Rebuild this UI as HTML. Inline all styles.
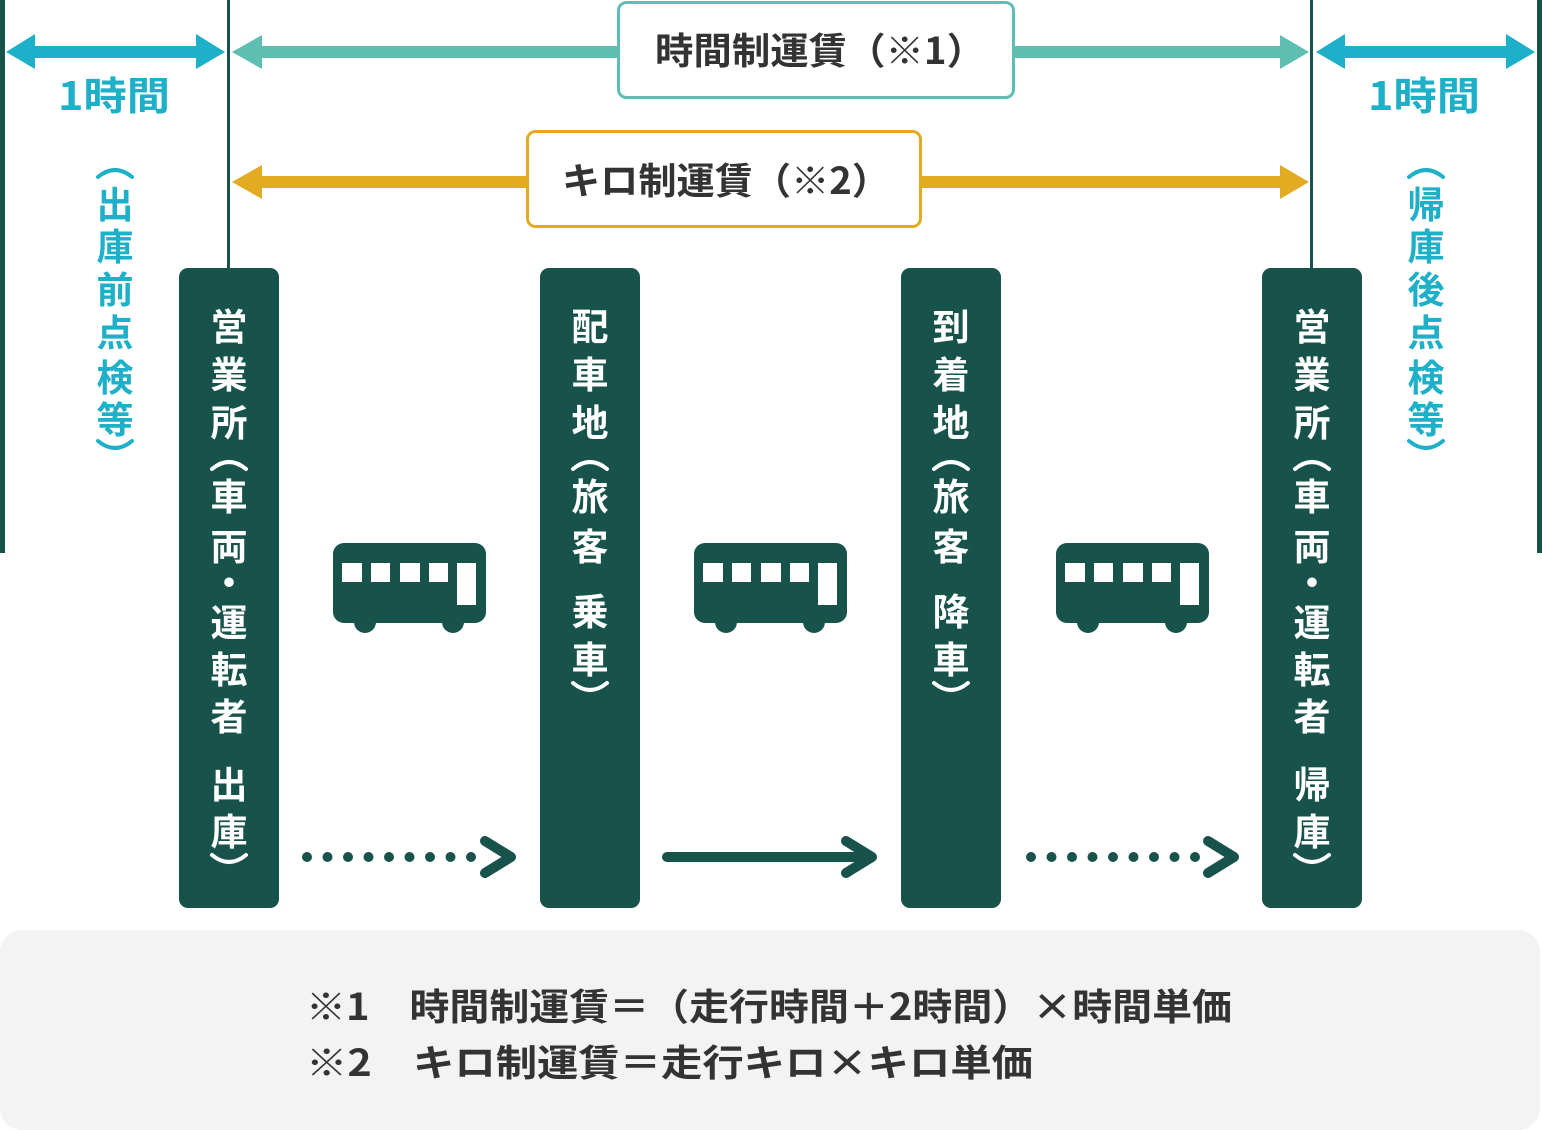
<!DOCTYPE html>
<html><head><meta charset="utf-8"><style>
html,body{margin:0;padding:0;background:#fff;}
svg{display:block;}
text{font-family:"Noto Sans CJK JP","Liberation Sans",sans-serif;font-weight:bold;}
.w{fill:#fff;font-size:37px;text-anchor:middle;}
.c{fill:#1eafc9;font-size:37px;text-anchor:middle;}
.pw{fill:none;stroke:#fff;stroke-width:4;stroke-linecap:round;}
.pc{fill:none;stroke:#1eafc9;stroke-width:4;stroke-linecap:round;}
</style></head><body>
<svg width="1542" height="1130" viewBox="0 0 1542 1130" xmlns="http://www.w3.org/2000/svg">
<rect x="0" y="0" width="5" height="553" fill="#17524b"/>
<rect x="1537" y="0" width="5" height="553" fill="#17524b"/>
<rect x="227" y="0" width="3" height="270" fill="#17524b"/>
<rect x="1310" y="0" width="3" height="270" fill="#17524b"/>
<g fill="#1eafc9">
<rect x="30" y="46" width="170" height="12"/>
<polygon points="6,52 35,34 35,69"/><polygon points="225,52 196,34 196,69"/>
<rect x="1340" y="46" width="170" height="12"/>
<polygon points="1316,52 1345,34 1345,69"/><polygon points="1535,52 1506,34 1506,69"/>
</g>
<g fill="#5fbeb2">
<rect x="255" y="46" width="1030" height="12"/>
<polygon points="232,52 262,35 262,69"/><polygon points="1309,52 1280,35 1280,69"/>
</g>
<g fill="#e2ab22">
<rect x="255" y="176" width="1030" height="12"/>
<polygon points="232,182 262,165 262,199"/><polygon points="1309,182 1280,165 1280,199"/>
</g>
<rect x="618.5" y="2.5" width="395" height="95" rx="8" fill="#fff" stroke="#5fbeb2" stroke-width="3"/>
<text x="655" y="64" font-size="37" fill="#333" textLength="330" lengthAdjust="spacingAndGlyphs">時間制運賃（※1）</text>
<rect x="527.5" y="131.5" width="393" height="95" rx="8" fill="#fff" stroke="#e2ab22" stroke-width="3"/>
<text x="562" y="194" font-size="37" fill="#333" textLength="328" lengthAdjust="spacingAndGlyphs">キロ制運賃（※2）</text>
<text x="58" y="110" font-size="39" fill="#1eafc9" textLength="112" lengthAdjust="spacingAndGlyphs">1時間</text>
<text x="1368" y="110" font-size="39" fill="#1eafc9" textLength="112" lengthAdjust="spacingAndGlyphs">1時間</text>
<g class="c">
<text x="115" y="218">出</text><text x="115" y="260">庫</text><text x="115" y="303">前</text><text x="115" y="346">点</text><text x="115" y="391">検</text><text x="115" y="433">等</text>
<text x="1426" y="218">帰</text><text x="1426" y="260">庫</text><text x="1426" y="303">後</text><text x="1426" y="346">点</text><text x="1426" y="391">検</text><text x="1426" y="433">等</text>
</g>
<path class="pc" d="M98,177 Q115,163 132,177"/><path class="pc" d="M98,441 Q115,455 132,441"/>
<path class="pc" d="M1409,177 Q1426,163 1443,177"/><path class="pc" d="M1409,441 Q1426,455 1443,441"/>
<g fill="#17524b">
<rect x="179" y="268" width="100" height="640" rx="9"/>
<rect x="540" y="268" width="100" height="640" rx="9"/>
<rect x="901" y="268" width="100" height="640" rx="9"/>
<rect x="1262" y="268" width="100" height="640" rx="9"/>
</g>
<g class="w">
<text x="229" y="340">営</text><text x="229" y="388">業</text><text x="229" y="436">所</text><text x="229" y="510">車</text><text x="229" y="560">両</text><text x="229" y="596">・</text><text x="229" y="636">運</text><text x="229" y="683">転</text><text x="229" y="730">者</text><text x="229" y="798">出</text><text x="229" y="845">庫</text>
<text x="590" y="340">配</text><text x="590" y="388">車</text><text x="590" y="436">地</text><text x="590" y="510">旅</text><text x="590" y="560">客</text><text x="590" y="625">乗</text><text x="590" y="673">車</text>
<text x="951" y="340">到</text><text x="951" y="388">着</text><text x="951" y="436">地</text><text x="951" y="510">旅</text><text x="951" y="560">客</text><text x="951" y="625">降</text><text x="951" y="673">車</text>
<text x="1312" y="340">営</text><text x="1312" y="388">業</text><text x="1312" y="436">所</text><text x="1312" y="510">車</text><text x="1312" y="560">両</text><text x="1312" y="596">・</text><text x="1312" y="636">運</text><text x="1312" y="683">転</text><text x="1312" y="730">者</text><text x="1312" y="798">帰</text><text x="1312" y="845">庫</text>
</g>
<g>
<path class="pw" d="M212,469 Q229,455 246,469"/><path class="pw" d="M212,855 Q229,869 246,855"/>
<path class="pw" d="M573,469 Q590,455 607,469"/><path class="pw" d="M573,683 Q590,697 607,683"/>
<path class="pw" d="M934,469 Q951,455 968,469"/><path class="pw" d="M934,683 Q951,697 968,683"/>
<path class="pw" d="M1295,469 Q1312,455 1329,469"/><path class="pw" d="M1295,855 Q1312,869 1329,855"/>
</g>
<defs>
<g id="bus">
<rect x="0" y="0" width="153" height="80" rx="11" fill="#17524b"/>
<circle cx="32" cy="79" r="11" fill="#17524b"/><circle cx="120" cy="79" r="11" fill="#17524b"/>
<g fill="#fff">
<rect x="9" y="20" width="20" height="19"/><rect x="38" y="20" width="19" height="19"/><rect x="67" y="20" width="20" height="19"/><rect x="96" y="20" width="19" height="19"/><rect x="124" y="20" width="19" height="42"/>
</g>
</g>
</defs>
<use href="#bus" x="333" y="543"/>
<use href="#bus" x="694" y="543"/>
<use href="#bus" x="1056" y="543"/>
<g fill="#17524b">
<circle cx="307" cy="857" r="5"/><circle cx="327.5" cy="857" r="5"/><circle cx="348" cy="857" r="5"/><circle cx="368.5" cy="857" r="5"/><circle cx="389" cy="857" r="5"/><circle cx="409.5" cy="857" r="5"/><circle cx="430" cy="857" r="5"/><circle cx="450.5" cy="857" r="5"/><circle cx="471" cy="857" r="5"/>
<circle cx="1031" cy="857" r="5"/><circle cx="1051.5" cy="857" r="5"/><circle cx="1072" cy="857" r="5"/><circle cx="1092.5" cy="857" r="5"/><circle cx="1113" cy="857" r="5"/><circle cx="1133.5" cy="857" r="5"/><circle cx="1154" cy="857" r="5"/><circle cx="1174.5" cy="857" r="5"/><circle cx="1195" cy="857" r="5"/>
</g>
<g fill="none" stroke="#17524b" stroke-width="10" stroke-linecap="round" stroke-linejoin="round">
<polyline points="485,841 511,857 485,873"/>
<line x1="667" y1="857" x2="870" y2="857"/>
<polyline points="846,841 872,857 846,873"/>
<polyline points="1208,841 1234,857 1208,873"/>
</g>
<rect x="0" y="930" width="1540" height="200" rx="22" fill="#f3f3f3"/>
<text x="306" y="1020" font-size="37" fill="#333" textLength="926" lengthAdjust="spacingAndGlyphs">※1　時間制運賃＝（走行時間＋2時間）×時間単価</text>
<text x="306" y="1076" font-size="37" fill="#333" textLength="727" lengthAdjust="spacingAndGlyphs">※2　キロ制運賃＝走行キロ×キロ単価</text>
</svg>
</body></html>
